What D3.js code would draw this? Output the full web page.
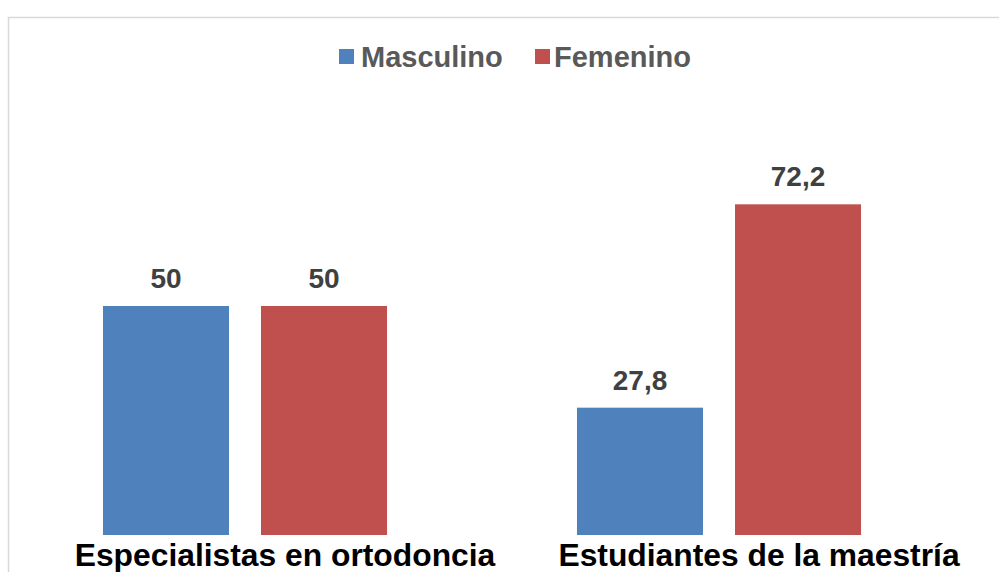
<!DOCTYPE html>
<html>
<head>
<meta charset="utf-8">
<script src="https://cdn.jsdelivr.net/npm/d3@7"></script>
<style>
  html, body { margin: 0; padding: 0; background: #fff; }
  svg { display: block; font-family: "Liberation Sans", Arial, sans-serif; }
</style>
</head>
<body>
<div id="chart"></div>
<script>
// grouped bars, two groups, two series

const categories = ["Especialistas en ortodoncia", "Estudiantes de la maestría"];
const series = ["Masculino", "Femenino"];
const masculino = [50, 27.8];
const femenino = [50, 72.2];
const colors = ["#4f81bd", "#c0504d"];

const W = 999, H = 572;

const svg = d3.select("#chart").append("svg")
  .attr("width", W)
  .attr("height", H);

// chart frame, runs off the right and bottom
svg.append("rect")
  .attr("x", 8.5)
  .attr("y", 17.5)
  .attr("width", 1100)
  .attr("height", 700)
  .attr("fill", "#fff")
  .attr("stroke", "#d9d9d9")
  .attr("stroke-width", 1.5);

const x0 = d3.scaleBand()
  .domain(categories)
  .range([8, 956])
  .padding(0);

const x1 = d3.scaleBand()
  .domain(series)
  .range([0, x0.bandwidth()])
  .paddingInner(0.2025)
  .paddingOuter(0.601);

const y = d3.scaleLinear()
  .domain([0, 80])
  .range([535, 535 - 80 * 4.58]);

const rows = categories.map((c, i) => ({
  cat: c,
  vals: [
    { s: series[0], v: masculino[i], c: colors[0] },
    { s: series[1], v: femenino[i], c: colors[1] }
  ]
}));

const groups = svg.selectAll(".grp")
  .data(rows)
  .join("g")
  .attr("class", "grp")
  .attr("transform", d => `translate(${x0(d.cat)},0)`);

groups.selectAll("rect")
  .data(d => d.vals)
  .join("rect")
  .attr("x", d => x1(d.s))
  .attr("y", d => y(d.v))
  .attr("width", x1.bandwidth())
  .attr("height", d => y(0) - y(d.v))
  .attr("fill", d => d.c);

const fmt = v => String(v).replace(".", ",");

groups.selectAll("text.val")
  .data(d => d.vals)
  .join("text")
  .attr("class", "val")
  .attr("x", d => x1(d.s) + x1.bandwidth() / 2)
  .attr("y", d => y(d.v) - 18)
  .attr("text-anchor", "middle")
  .attr("font-size", 28)
  .attr("font-weight", 700)
  .attr("fill", "#404040")
  .text(d => fmt(d.v));

// category labels, they sit a bit right of the group center in the original
groups.append("text")
  .attr("x", x0.bandwidth() / 2 + 40)
  .attr("y", 566)
  .attr("text-anchor", "middle")
  .attr("font-size", 31.8)
  .attr("font-weight", 700)
  .attr("fill", "#000")
  .text(d => d.cat);

// legend
const legX = [339, 535];
const legTextX = [22, 19];
const leg = svg.selectAll(".leg")
  .data(series)
  .join("g")
  .attr("class", "leg")
  .attr("transform", (d, i) => `translate(${legX[i]},49)`);

leg.append("rect")
  .attr("width", 15)
  .attr("height", 15)
  .attr("fill", (d, i) => colors[i]);

leg.append("text")
  .attr("x", (d, i) => legTextX[i])
  .attr("y", 18)
  .attr("font-size", 29)
  .attr("font-weight", 700)
  .attr("fill", "#595959")
  .text(d => d);
</script>
</body>
</html>
